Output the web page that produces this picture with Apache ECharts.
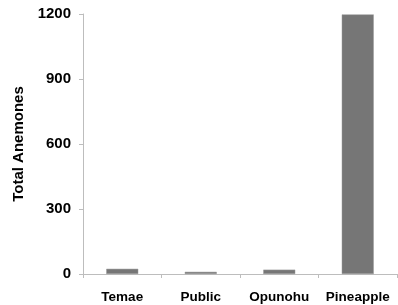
<!DOCTYPE html>
<html>
<head>
<meta charset="utf-8">
<script src="https://cdn.jsdelivr.net/npm/echarts@6/dist/echarts.min.js"></script>
<style>
  html, body { margin: 0; padding: 0; background: #fff; }
  #chart { width: 398px; height: 305px; }
</style>
</head>
<body>
<div id="chart"></div>
<script>
// sites and counts
const sites = ['Temae', 'Public', 'Opunohu', 'Pineapple']
const anemones = [24, 10, 20, 1198]
const yTicks = [0, 300, 600, 900, 1200]

const chart = echarts.init(document.getElementById('chart'))
chart.setOption({
  animation: false,
  textStyle: { fontFamily: 'Liberation Sans, Arial, sans-serif' },
  grid: { left: 83, right: 1, top: 14, bottom: 31, containLabel: false },
  xAxis: {
    type: 'category',
    data: sites,
    axisLine: { lineStyle: { color: '#bdbdbd', width: 1 } },
    axisTick: { show: true, length: 4, lineStyle: { color: '#bdbdbd' } },
    axisLabel: {
      color: '#000', fontWeight: 'bold', fontSize: 13.5, margin: 16,
      interval: 0, hideOverlap: false
    }
  },
  yAxis: {
    type: 'value',
    min: yTicks[0],
    max: yTicks[yTicks.length - 1],
    interval: 300,
    name: 'Total Anemones',
    nameLocation: 'middle',
    nameGap: 57,
    nameTextStyle: { color: '#000', fontWeight: 'bold', fontSize: 15 },
    axisLine: { show: true, lineStyle: { color: '#bdbdbd', width: 1 } },
    axisTick: { show: true, length: 4, lineStyle: { color: '#bdbdbd' } },
    axisLabel: {
      color: '#000', fontWeight: 'bold', fontSize: 15, margin: 12,
      formatter: v => String(v)
    },
    splitLine: { show: false }
  },
  series: [{
    type: 'bar',
    data: anemones,
    barWidth: 32,
    itemStyle: { color: '#767676', borderColor: '#9a9a9a', borderWidth: 0.5 }
  }]
})
</script>
</body>
</html>
